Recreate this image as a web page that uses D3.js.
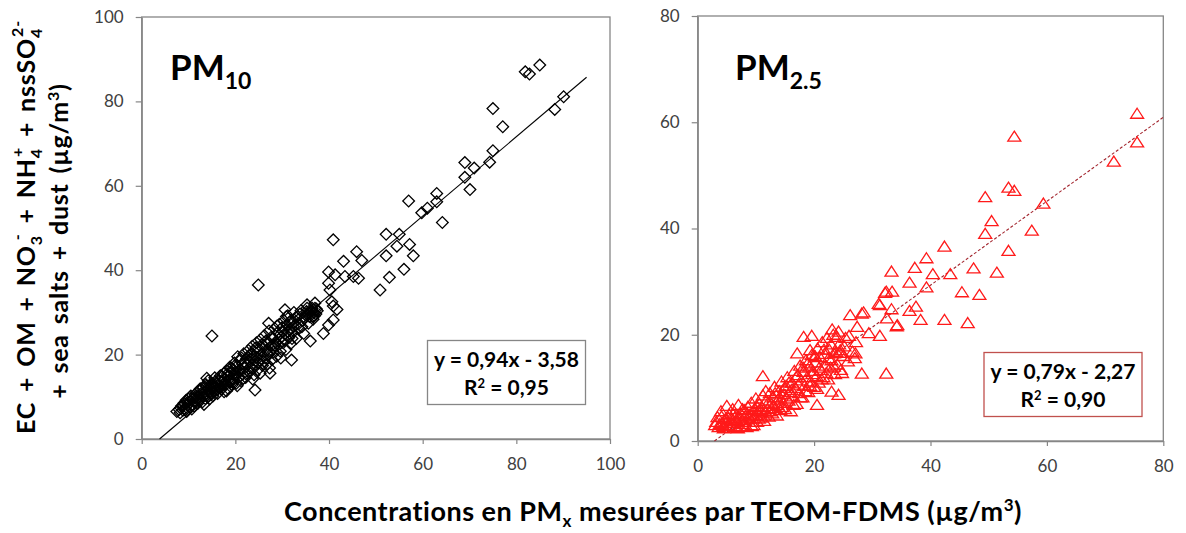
<!DOCTYPE html>
<html>
<head>
<meta charset="utf-8">
<script src="https://cdn.jsdelivr.net/npm/d3@7"></script>
<style>
  body { margin: 0; background: #fff; }
  svg { display: block; font-family: Lato, "Open Sans", sans-serif; }
</style>
</head>
<body>
<div id="chart"></div>
<script>
// --- 資料：PM10 (x = TEOM-FDMS, y = 重建質量) ---
const pm10Points = [
  [7.5,6.5],[8,7],[8.2,6.2],[8.5,7.8],[8.8,6.8],[9,8.5],[9.2,7.2],[9.5,9.2],[9.6,6.5],[9.8,8],
  [10,9.5],[10.2,7.5],[10.4,8.8],[10.5,10.2],[10.8,8.2],[11,9.6],[11.2,7.8],[11.4,10.5],[11.5,9],[11.8,11],
  [12,8.5],[12,10],[12.3,11.5],[12.5,9.4],[12.7,10.8],[13,12],[13,8.8],[13.2,10.2],[13.5,11.2],[13.6,9.6],
  [13.8,12.5],[14,10.5],[14.2,13.8],[14.3,11.8],[14.5,9.5],[14.7,12.2],[15,11],[15,13.2],[15.2,10.2],[15.5,12],
  [15.6,14.5],[15.8,11.5],[16,13],[16.2,10.8],[16.4,14],[16.5,12.4],[16.8,15],[17,11.8],[17,13.6],[17.3,12.8],
  [17.5,15.5],[17.6,11.2],[17.8,14.2],[18,13],[18.2,16.2],[18.4,12],[18.5,14.8],[18.8,17],[19,13.5],[19,15.6],
  [19.3,12.8],[19.5,16.5],[19.6,14.2],[19.8,18],[20,15],[20.2,13.2],[20.3,17.2],[20.5,19.5],[20.7,14.6],[21,16.4],
  [21,18.6],[21.2,13.8],[21.5,17.8],[21.6,15.4],[21.8,20.2],[22,16.8],[22.2,14.6],[22.4,19],[22.6,17.6],[22.8,21],
  [23,15.8],[23,18.4],[23.3,20],[23.5,16.8],[23.6,22],[23.8,18.8],[24,15.2],[24,20.8],[24.3,17.6],[24.5,22.8],
  [24.6,19.4],[24.8,16.4],[25,21.4],[25.2,18.6],[25.4,23.6],[25.6,20],[25.8,17.4],[26,22.2],[26.2,24.5],[26.4,19.2],
  [26.6,21],[26.8,17.8],[27,23],[27.2,25.6],[27.4,20.4],[27.6,22],[27.8,18.8],[28,24],[28.2,21.6],[28.4,26.2],
  [28.6,23],[28.8,19.6],[29,25.2],[29.2,22.4],[29.4,27.2],[29.6,20.8],[29.8,24.2],[30,26.4],[30.2,22.8],[30.4,28],
  [30.6,25],[30.8,21.2],[31,27],[31.2,29.2],[31.4,24],[31.6,26],[31.8,22.6],[32,28.2],[32.2,25.2],[32.5,30],
  [32.8,27],[33,23.8],[33.3,29],[33.6,26.2],[34,30.4],[34.3,28],[34.6,25],[35,29.4],[35.3,31],[35.6,27.4],
  [36,29.8],[36.2,30.4],[36.5,29],[36.8,30],[37,31],[37.2,29.6],[37.5,30.4],
  [8.3,7.4],[8.9,7.9],[9.3,6.9],[9.9,8.7],[10.3,9.9],[10.7,7.1],[11.1,8.9],[11.6,10.1],[12.1,9.1],[12.5,11.9],
  [12.9,10.4],[13.3,8.2],[13.7,12.9],[14.1,9.9],[14.4,12.6],[14.9,10.6],[15.3,12.6],[15.7,13.6],[16.1,11.6],[16.6,13.8],
  [16.9,12.2],[17.2,14.8],[17.7,13.2],[18.1,11.4],[18.3,15.4],[18.7,13.8],[19.1,16.8],[19.4,13.4],[19.9,15.8],[20.1,17.6],
  [20.4,12.6],[20.8,16],[21.3,19.2],[21.7,14.4],[22.1,18],[22.5,15.6],[22.9,19.8],[23.2,17],[23.7,14.2],[24.1,19.6],
  [24.4,21.6],[24.9,18],[25.3,15.6],[25.7,22.4],[26.1,18.4],[26.5,23.2],[26.9,20],[27.3,16.8],[27.7,24.2],[28.1,20.6],
  [28.5,22.2],[28.9,26.8],[29.3,23.6],[29.7,19.2],[30.1,25.6],[30.5,23.4],[30.9,29],[31.3,25.4],[31.7,27.8],[32.1,23.8],
  [32.4,26.6],[32.9,28.8],[33.4,27.2],[33.8,29.6],[34.2,26.6],[34.8,28.8],[35.2,30.2],[35.8,29],[36.4,31],[36.6,28.4],
  [37.3,30.8],[36.9,29.2],
  // 離群與上段點
  [24.9,36.5],[15,24.4],[24.2,11.6],[13.9,14.4],[27.4,15.6],[32,18.7],[36,23.2],[38.8,25],[39.9,27],[40.9,28.2],
  [41.7,30.7],[40.6,32.5],[39.9,36.9],[41.3,38.9],[43.4,38.5],[27.1,27.4],[30.6,30.6],[35.3,31.8],[37,32.2],
  [40.9,47.2],[40.2,35.3],[40.9,31.5],[39.9,39.6],[43.1,42.1],[45.9,44.4],[47,42.3],[45.2,38.5],[46.3,38.1],
  [50.9,35.3],[52.9,38.3],[52.2,43.4],[56,40.2],[58,43.4],[57.2,46.1],[54.5,45.7],[52.2,48.5],[55,48.5],
  [57,56.4],[59.8,53.6],[61,54.7],[63,56.2],[63,58.2],[64.2,51.3],[70.1,59.1],[69,62],[69,65.5],[71,64.2],
  [74.3,65.6],[75,68.3],[77.1,74],[75,78.3],[81.9,87],[82.8,86.5],[85,88.6],[88.2,78.1],[90.1,81.1]
];

// --- 資料：PM2.5 ---
const pm25Points = [
  [3,3],[3.4,4.5],[3.6,2.6],[4,5.6],[4.2,3.4],[4.5,2.4],[4.8,4.2],[5,6.6],[5.2,3],[5.4,5],
  [5.6,2.8],[5.8,4],[6,6],[6.2,3.4],[6.4,2.6],[6.6,4.8],[6.8,3.8],[7,6.8],[7.2,2.8],[7.4,5.2],
  [7.6,4],[7.8,3.2],[8,5.8],[8.2,4.6],[8.4,2.6],[8.6,6.4],[8.8,3.6],[9,5],[9.2,7.2],[9.4,4.2],
  [9.6,3],[9.8,6],[10,4.8],[10,8],[10.2,3.6],[10.4,5.6],[10.6,7],[10.8,4.4],[11,6.4],[11.2,8.6],
  [11.4,3.8],[11.6,5.4],[11.8,7.6],[12,6],[12.2,4.6],[12.4,9],[12.6,7],[12.8,5.2],[13,8.2],[13.2,10.2],
  [13.4,6.2],[13.6,4.8],[13.8,7.8],[14,9.4],[14.2,5.8],[14.4,11.2],[14.6,7.2],[14.8,8.8],[15,6],[15.2,10.4],
  [15.4,12],[15.6,7.6],[15.8,9.2],[16,5.6],[16.2,11],[16.4,8.4],[16.6,13.2],[16.8,10],[17,7],[17.2,12.4],
  [17.4,9],[17.6,14.2],[17.8,11.4],[18,8.2],[18.2,13],[18.4,10.4],[18.6,15.2],[18.8,12],[19,9.2],[19.2,14],
  [19.4,11.2],[19.6,16.2],[19.8,13.2],[20,10.2],[20.2,14.8],[20.4,12.2],[20.6,17.4],[20.8,11],[21,15.8],[21.2,13.4],
  [21.4,18.6],[21.6,12],[21.8,16.4],[22,14.2],[22.2,19.4],[22.4,11.6],[22.6,17.2],[22.8,13.8],[23,15.2],[23.3,20],
  [23.6,12.6],[23.8,16.8],[24,14.4],[24.3,18.2],[24.6,13.4],[25,16],[25.4,19.4],[25.8,15],
  [3.2,3.6],[3.8,3.2],[4.1,4.6],[4.4,2.8],[4.9,3.4],[5.3,4.4],[5.7,3.4],[6.1,5],[6.5,3.8],[6.9,2.4],
  [7.3,4.4],[7.7,6],[8.1,3.6],[8.5,5.2],[8.9,4.4],[9.3,2.8],[9.7,4.8],[10.1,6.6],[10.5,4.2],[10.9,5.8],
  [11.3,4.8],[11.7,9.4],[12.1,7.2],[12.5,5.6],[12.9,6.6],[13.3,9],[13.7,6.8],[14.1,8.2],[14.5,6.4],[14.9,10],
  [15.3,8],[15.7,11],[16.1,9.6],[16.5,6.8],[16.9,12],[17.3,10.6],[17.7,8.2],[18.1,13.8],[18.5,9.4],[18.9,14.6],
  [19.3,10.4],[19.7,12.6],[20.1,16],[20.5,9.8],[20.9,13.8],[21.3,11.6],[21.7,17.2],[22.1,12.8],[22.5,15.6],[22.9,18.2],
  [23.4,14],[23.9,19.6],[24.4,16.6],[24.8,12.8],[25.2,17.8],[26,19.8],[26.6,16.8],[27.2,18.6],[27,15.6],
  // 外圍點
  [11.2,12.2],[20.5,6.8],[24.2,8.7],[23,9.3],[17.1,16.5],[19.3,17.1],[20.2,15.9],[23.4,16.5],[24.5,17.1],[27.1,16.5],
  [28.2,12.7],[32.4,12.7],[18.2,19.6],[19.6,19.8],[23.1,21],[24.2,20.6],[26.2,23.7],[28.2,24],[27.4,21.5],[29.4,20.3],
  [31.3,19.8],[34.2,21.6],[31.1,25.8],[32.2,27.9],[33.4,28.1],[32.4,28.1],[31.3,25.6],[33.3,24.8],[28.5,24.2],[32.5,23.1],
  [34.3,21.8],[33.3,31.9],[36.4,29.8],[37.3,32.6],[39.3,34.4],[40.4,31.4],[42.4,36.6],[39.3,28.9],[36.4,24.5],[37.5,25.3],
  [38.3,22.8],[42.4,22.8],[43.4,31.4],[45.4,28],[46.4,22.2],[47.4,32.5],[48.4,27.5],[49.4,39],[50.5,41.4],[49.4,45.9],
  [51.4,31.7],[53.4,35.8],[53.4,47.7],[54.4,47.1],[54.4,57.3],[57.4,39.6],[59.4,44.7],[71.5,52.6],[75.5,56.2],[75.5,61.6]
];

const pm10Ticks = [0, 20, 40, 60, 80, 100];
const pm25Ticks = [0, 20, 40, 60, 80];
const pm10Fit = { slope: 0.94, intercept: -3.58, xMax: 95 };
const pm25Fit = { slope: 0.79, intercept: -2.27, xMax: 80 };
const pm10Equation = ["y = 0,94x - 3,58", "0,95"];
const pm25Equation = ["y = 0,79x - 2,27", "0,90"];

const width = 1186, height = 533;
const axisGrey = "#868686";
const tickTextColor = "#404040";

const svg = d3.select("#chart").append("svg")
  .attr("width", width)
  .attr("height", height);

/**
 * 繪製單一散佈圖面板
 */
function drawPanel(cfg) {
  const x = d3.scaleLinear().domain(cfg.xDomain).range(cfg.xRange);
  const y = d3.scaleLinear().domain(cfg.yDomain).range(cfg.yRange);
  const g = svg.append("g");

  // --- 1. 外框 ---
  g.append("rect")
    .attr("x", cfg.xRange[0]).attr("y", cfg.yRange[1])
    .attr("width", cfg.xRange[1] - cfg.xRange[0])
    .attr("height", cfg.yRange[0] - cfg.yRange[1])
    .attr("fill", "none").attr("stroke", axisGrey).attr("stroke-width", 1.3);

  // --- 2. 座標軸 ---
  const xAxis = g.append("g")
    .attr("transform", `translate(0,${cfg.yRange[0]})`)
    .call(d3.axisBottom(x).tickValues(cfg.ticks).tickSize(5).tickSizeOuter(0).tickPadding(14));
  const yAxis = g.append("g")
    .attr("transform", `translate(${cfg.xRange[0]},0)`)
    .call(d3.axisLeft(y).tickValues(cfg.ticks).tickSize(6).tickSizeOuter(0).tickPadding(12));
  [xAxis, yAxis].forEach(a => {
    a.select(".domain").attr("stroke", axisGrey).attr("stroke-width", 1.3);
    a.selectAll(".tick line").attr("stroke", axisGrey).attr("stroke-width", 1.2);
    a.selectAll(".tick text")
      .attr("fill", tickTextColor)
      .style("font-size", "17px")
      .style("font-family", "Lato, sans-serif");
  });

  // --- 3. 回歸線 ---
  const x0 = -cfg.fit.intercept / cfg.fit.slope;
  g.append("line")
    .attr("x1", x(x0)).attr("y1", y(0))
    .attr("x2", x(cfg.fit.xMax)).attr("y2", y(cfg.fit.slope * cfg.fit.xMax + cfg.fit.intercept))
    .attr("stroke", cfg.lineColor)
    .attr("stroke-width", 1.1)
    .attr("stroke-dasharray", cfg.dash);

  // --- 4. 資料點 ---
  g.append("g")
    .selectAll("path")
    .data(cfg.points)
    .join("path")
      .attr("d", cfg.symbol)
      .attr("transform", d => `translate(${x(d[0])},${y(d[1])}) rotate(${cfg.rotate})`)
      .attr("fill", "none")
      .attr("stroke", cfg.color)
      .attr("stroke-width", 1.3);

  // --- 5. 面板標題 PM10 / PM2.5 ---
  const title = g.append("text")
    .attr("x", cfg.titleX).attr("y", 80)
    .attr("fill", "#000")
    .style("font-weight", "bold")
    .style("font-size", "35px");
  title.append("tspan").text("PM");
  title.append("tspan").attr("dy", 9).style("font-size", "23px").text(cfg.titleSub);

  // --- 6. 方程式方塊 ---
  const bx = cfg.box;
  g.append("rect")
    .attr("x", bx.x).attr("y", bx.y).attr("width", bx.w).attr("height", bx.h)
    .attr("fill", "#fff").attr("stroke", cfg.boxStroke).attr("stroke-width", 1.3);
  const cx = bx.x + bx.w / 2;
  g.append("text")
    .attr("x", cx).attr("y", bx.y + 26)
    .attr("text-anchor", "middle")
    .style("font-weight", "bold").style("font-size", "21px")
    .text(cfg.equation[0]);
  const r2 = g.append("text")
    .attr("x", cx).attr("y", bx.y + 54)
    .attr("text-anchor", "middle")
    .style("font-weight", "bold").style("font-size", "21px");
  r2.append("tspan").text("R");
  r2.append("tspan").attr("dy", -7).style("font-size", "13px").text("2");
  r2.append("tspan").attr("dy", 7).text(" = " + cfg.equation[1]);
}

const diamond = d3.symbol(d3.symbolSquare, 68)();
// 扁三角形（比等邊三角形寬）
const triangle = "M0,-5.5L6.5,4.5L-6.5,4.5Z";

drawPanel({
  points: pm10Points,
  xDomain: [0, 100], yDomain: [0, 100],
  xRange: [141.7, 610], yRange: [439, 17],
  ticks: pm10Ticks,
  fit: pm10Fit,
  lineColor: "#000", dash: null,
  symbol: diamond, rotate: 45, color: "#000",
  titleX: 170, titleSub: "10",
  box: { x: 427.5, y: 340.5, w: 158, h: 64 },
  boxStroke: axisGrey,
  equation: pm10Equation
});

drawPanel({
  points: pm25Points,
  xDomain: [0, 80], yDomain: [0, 80],
  xRange: [697.7, 1163.3], yRange: [441, 16],
  ticks: pm25Ticks,
  fit: pm25Fit,
  lineColor: "#a3262f", dash: "3,2",
  symbol: triangle, rotate: 0, color: "#ff1a1a",
  titleX: 735, titleSub: "2.5",
  box: { x: 984, y: 352.5, w: 158, h: 64 },
  boxStroke: "#c0504d",
  equation: pm25Equation
});

// --- 7. 座標軸標題 ---
const yLabel1 = svg.append("text")
  .attr("transform", "translate(35,227) rotate(-90)")
  .attr("text-anchor", "middle")
  .style("font-weight", "bold").style("font-size", "25px")
  .style("letter-spacing", "0.8px").style("word-spacing", "3px");
yLabel1.append("tspan").text("EC + OM + NO");
yLabel1.append("tspan").attr("dy", 7).style("font-size", "16px").text("3");
yLabel1.append("tspan").attr("dy", -19).attr("dx", -5).style("font-size", "16px").text("-");
yLabel1.append("tspan").attr("dy", 12).text(" + NH");
yLabel1.append("tspan").attr("dy", 7).style("font-size", "16px").text("4");
yLabel1.append("tspan").attr("dy", -19).attr("dx", -9).style("font-size", "16px").text("+");
yLabel1.append("tspan").attr("dy", 12).text(" + nssSO");
yLabel1.append("tspan").attr("dy", 7).style("font-size", "16px").text("4");
yLabel1.append("tspan").attr("dy", -19).attr("dx", -9).style("font-size", "16px").text("2-");

const yLabel2 = svg.append("text")
  .attr("transform", "translate(68,241) rotate(-90)")
  .attr("text-anchor", "middle")
  .style("font-weight", "bold").style("font-size", "25px")
  .style("letter-spacing", "0.8px").style("word-spacing", "3px");
yLabel2.append("tspan").text("+ sea salts + dust (µg/m");
yLabel2.append("tspan").attr("dy", -9).style("font-size", "16px").text("3");
yLabel2.append("tspan").attr("dy", 9).text(")");

const xLabel = svg.append("text")
  .attr("x", 653).attr("y", 521)
  .attr("text-anchor", "middle")
  .style("font-weight", "bold").style("font-size", "27px")
  .style("letter-spacing", "0.5px");
xLabel.append("tspan").text("Concentrations en PM");
xLabel.append("tspan").attr("dy", 6).style("font-size", "17px").text("x");
xLabel.append("tspan").attr("dy", -6).text(" mesurées par TEOM-FDMS (µg/m");
xLabel.append("tspan").attr("dy", -10).style("font-size", "17px").text("3");
xLabel.append("tspan").attr("dy", 10).text(")");
</script>
</body>
</html>
